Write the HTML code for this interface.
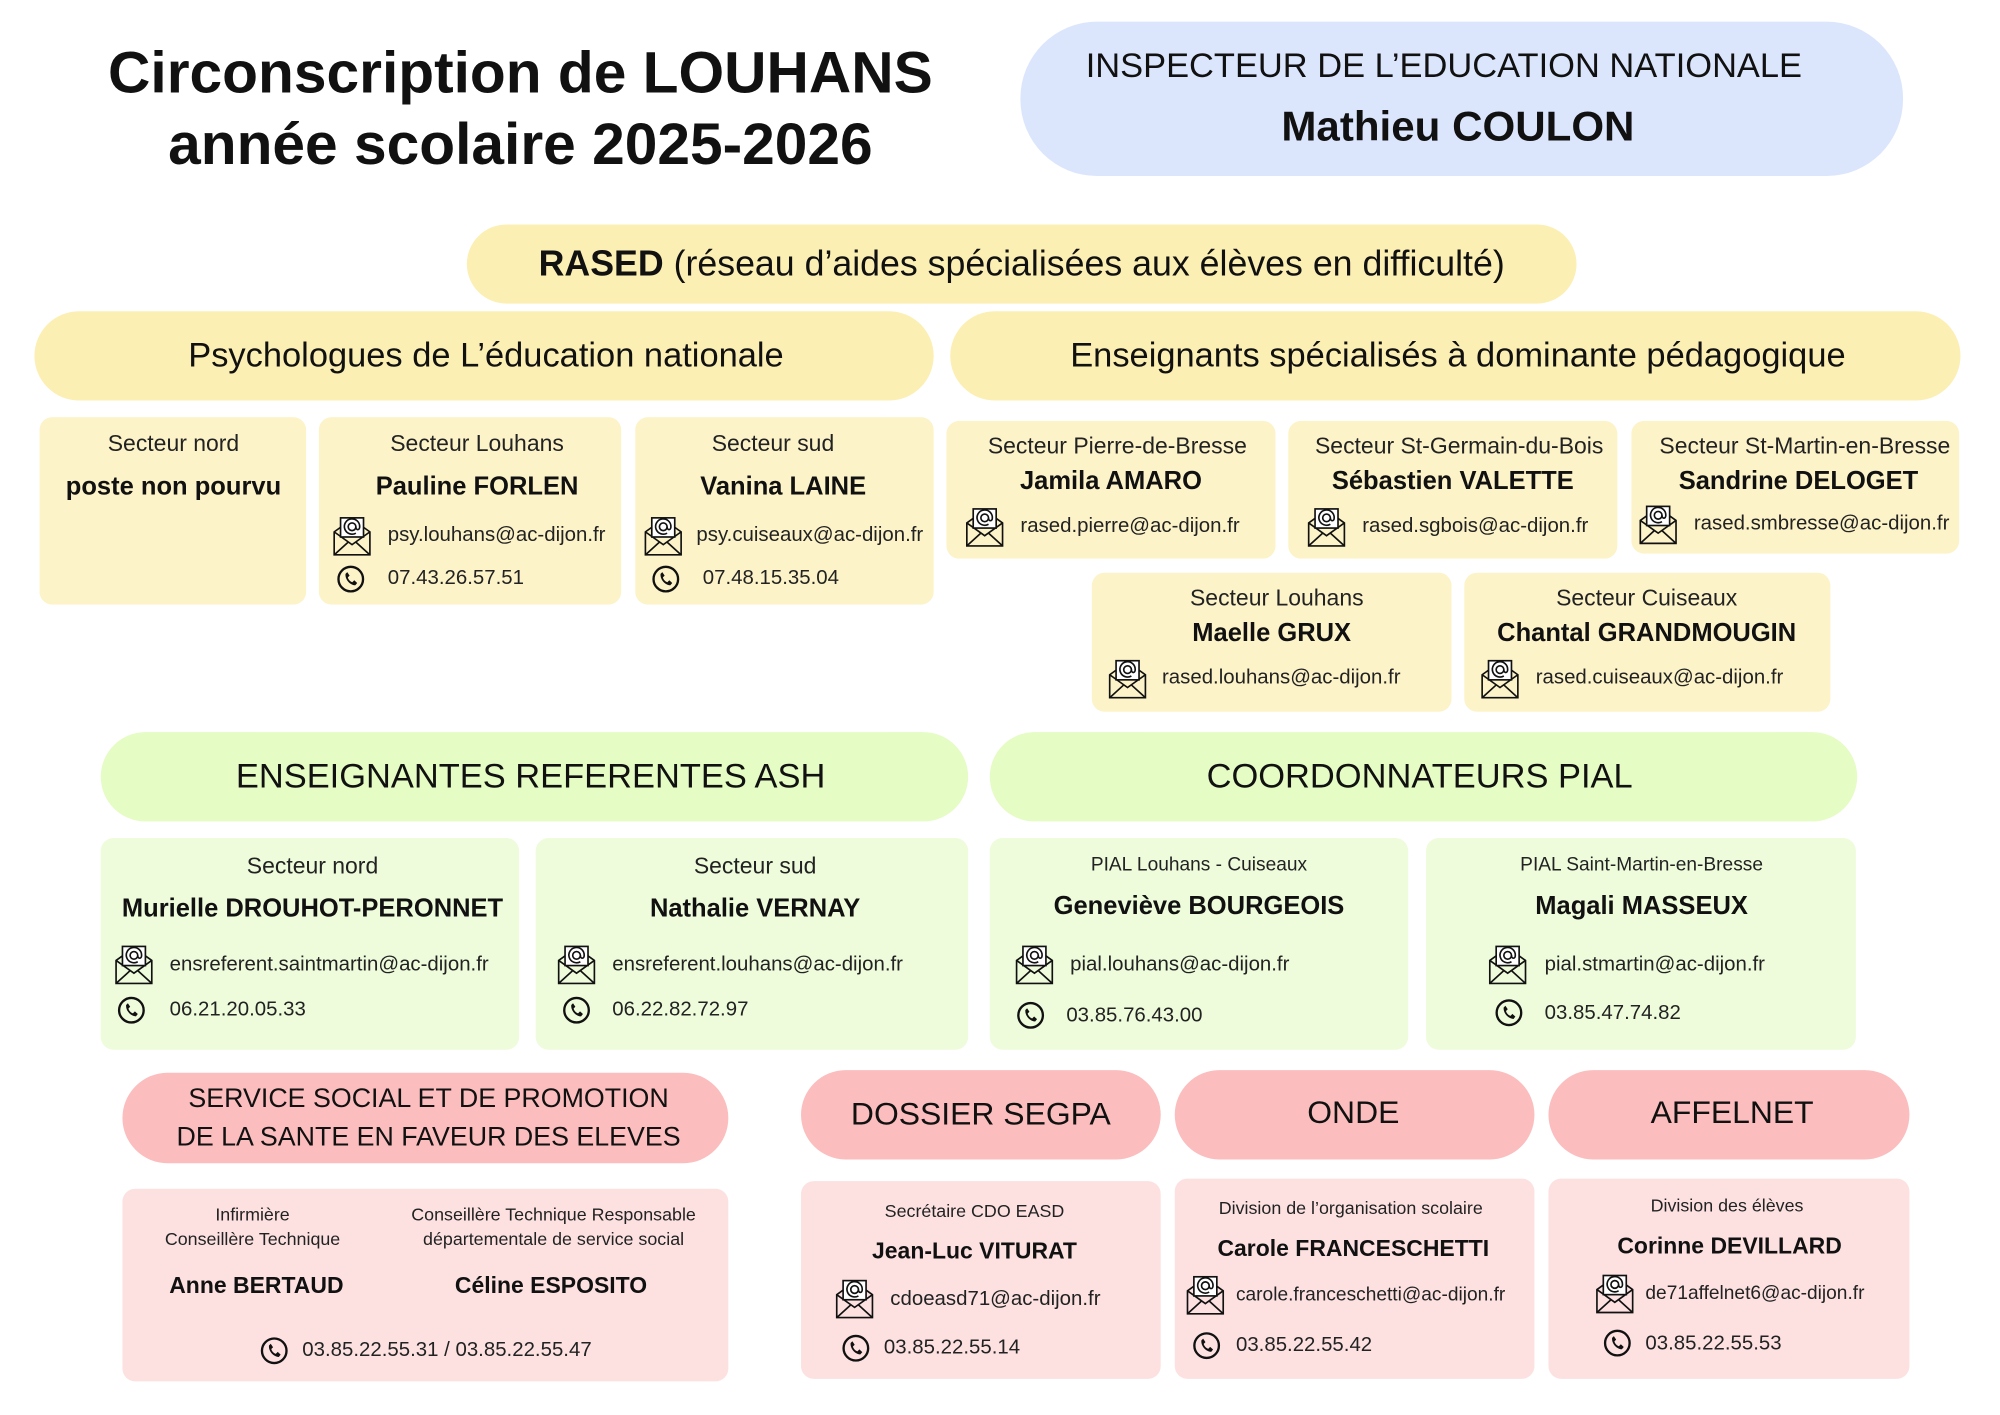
<!DOCTYPE html>
<html><head><meta charset="utf-8"><style>
html,body{margin:0;padding:0;background:#fff;}
body{width:2000px;height:1414px;overflow:hidden;position:relative;font-family:"Liberation Sans",sans-serif;color:#111;}
#c{position:absolute;left:0;top:0;width:1568px;height:1109px;transform:scale(1.27551);transform-origin:0 0;}
.b{position:absolute;}
.y{background:#fdf3c9;border-radius:10px}
.yh{background:#fcefb4;border-radius:36px}
.g{background:#eefcdc;border-radius:10px}
.gh{background:#e5fcc4;border-radius:36px}
.p{background:#fde1e1;border-radius:10px}
.ph{background:#fbbdbd;border-radius:36px}
.t{position:absolute;white-space:nowrap;transform:translate(-50%,-50%);line-height:1.15;text-align:center}
.l{position:absolute;white-space:nowrap;transform:translateY(-50%);line-height:1}
.s{font-size:18px;color:#222}
.n{font-size:20px;font-weight:bold}
.e{font-size:16px;color:#222}
.h{font-size:27px;color:#111}
.sm{font-size:14px;color:#222}
svg.i{position:absolute}
</style></head><body><div id="c">
<svg width="0" height="0" style="position:absolute"><defs>
<symbol id="env" viewBox="0 0 32 32"><g fill="none" stroke="#111" stroke-width="1.3"><path d="M2 13 L2 31 L30 31 L30 13 L16 3 Z"/><path d="M2 31 L13 21 M30 31 L19 21 M2 13 L16 23 L30 13"/><rect x="7" y="2" width="18" height="15" fill="#fff"/><circle cx="16" cy="9" r="3"/><path d="M19 9 c0 3 3 3 3 0 a6 6 0 1 0 -3 5"/></g></symbol>
<symbol id="ph" viewBox="0 0 24 24"><circle cx="12" cy="12" r="10.5" fill="none" stroke="#111" stroke-width="2"/><path d="M9 6 l2 3 -1.5 1.5 c0.5 2 2 3.5 3.8 4.2 L15 13 l2.5 2.3 -1.6 2 C11 17 7 12 7.5 7.5 Z" fill="#111"/></symbol>
</defs></svg>

<div class="t" style="left:408px;top:57px;font-size:46px;font-weight:bold">Circonscription de LOUHANS</div>
<div class="t" style="left:408px;top:113px;font-size:46px;font-weight:bold">année scolaire 2025-2026</div>

<div class="b" style="left:800px;top:17px;width:692px;height:121px;background:#dbe6fd;border-radius:60px"></div>
<div class="t" style="left:1132px;top:52px;font-size:27px">INSPECTEUR DE L’EDUCATION NATIONALE</div>
<div class="t" style="left:1143px;top:99px;font-size:33px;font-weight:bold">Mathieu COULON</div>

<div class="b yh" style="left:366px;top:176px;width:870px;height:62px;border-radius:31px"></div>
<div class="t" style="left:801px;top:207px;font-size:28px"><b>RASED</b> (réseau d’aides spécialisées aux élèves en difficulté)</div>

<div class="b yh" style="left:27px;top:244px;width:705px;height:70px"></div>
<div class="t h" style="left:381px;top:279px">Psychologues de L’éducation nationale</div>
<div class="b yh" style="left:745px;top:244px;width:792px;height:70px"></div>
<div class="t h" style="left:1143px;top:279px">Enseignants spécialisés à dominante pédagogique</div>

<!-- psy boxes -->
<div class="b y" style="left:31px;top:327px;width:209px;height:147px"></div>
<div class="t s" style="left:136px;top:348px">Secteur nord</div>
<div class="t n" style="left:136px;top:382px">poste non pourvu</div>

<div class="b y" style="left:250px;top:327px;width:237px;height:147px"></div>
<div class="t s" style="left:374px;top:348px">Secteur Louhans</div>
<div class="t n" style="left:374px;top:382px">Pauline FORLEN</div>
<svg class="i" style="left:260px;top:404px" width="32" height="32"><use href="#env"/></svg>
<div class="l e" style="left:304px;top:420px">psy.louhans@ac-dijon.fr</div>
<svg class="i" style="left:264px;top:443px" width="22" height="22"><use href="#ph"/></svg>
<div class="l e" style="left:304px;top:454px">07.43.26.57.51</div>

<div class="b y" style="left:498px;top:327px;width:234px;height:147px"></div>
<div class="t s" style="left:606px;top:348px">Secteur sud</div>
<div class="t n" style="left:614px;top:382px">Vanina LAINE</div>
<svg class="i" style="left:504px;top:404px" width="32" height="32"><use href="#env"/></svg>
<div class="l e" style="left:546px;top:420px">psy.cuiseaux@ac-dijon.fr</div>
<svg class="i" style="left:511px;top:443px" width="22" height="22"><use href="#ph"/></svg>
<div class="l e" style="left:551px;top:454px">07.48.15.35.04</div>

<!-- ens boxes -->
<div class="b y" style="left:742px;top:330px;width:258px;height:108px"></div>
<div class="t s" style="left:876px;top:350px">Secteur Pierre-de-Bresse</div>
<div class="t n" style="left:871px;top:378px">Jamila AMARO</div>
<svg class="i" style="left:756px;top:397px" width="32" height="32"><use href="#env"/></svg>
<div class="l e" style="left:800px;top:413px">rased.pierre@ac-dijon.fr</div>

<div class="b y" style="left:1010px;top:330px;width:258px;height:108px"></div>
<div class="t s" style="left:1144px;top:350px">Secteur St-Germain-du-Bois</div>
<div class="t n" style="left:1139px;top:378px">Sébastien VALETTE</div>
<svg class="i" style="left:1024px;top:397px" width="32" height="32"><use href="#env"/></svg>
<div class="l e" style="left:1068px;top:413px">rased.sgbois@ac-dijon.fr</div>

<div class="b y" style="left:1279px;top:330px;width:257px;height:104px"></div>
<div class="t s" style="left:1415px;top:350px">Secteur St-Martin-en-Bresse</div>
<div class="t n" style="left:1410px;top:378px">Sandrine DELOGET</div>
<svg class="i" style="left:1284px;top:395px" width="32" height="32"><use href="#env"/></svg>
<div class="l e" style="left:1328px;top:411px">rased.smbresse@ac-dijon.fr</div>

<div class="b y" style="left:856px;top:449px;width:282px;height:109px"></div>
<div class="t s" style="left:1001px;top:469px">Secteur Louhans</div>
<div class="t n" style="left:997px;top:497px">Maelle GRUX</div>
<svg class="i" style="left:868px;top:516px" width="32" height="32"><use href="#env"/></svg>
<div class="l e" style="left:911px;top:532px">rased.louhans@ac-dijon.fr</div>

<div class="b y" style="left:1148px;top:449px;width:287px;height:109px"></div>
<div class="t s" style="left:1291px;top:469px">Secteur Cuiseaux</div>
<div class="t n" style="left:1291px;top:497px">Chantal GRANDMOUGIN</div>
<svg class="i" style="left:1160px;top:516px" width="32" height="32"><use href="#env"/></svg>
<div class="l e" style="left:1204px;top:532px">rased.cuiseaux@ac-dijon.fr</div>

<!-- green -->
<div class="b gh" style="left:79px;top:574px;width:680px;height:70px"></div>
<div class="t h" style="left:416px;top:609px">ENSEIGNANTES REFERENTES ASH</div>
<div class="b gh" style="left:776px;top:574px;width:680px;height:70px"></div>
<div class="t h" style="left:1113px;top:609px">COORDONNATEURS PIAL</div>

<div class="b g" style="left:79px;top:657px;width:328px;height:166px"></div>
<div class="t s" style="left:245px;top:679px">Secteur nord</div>
<div class="t n" style="left:245px;top:713px">Murielle DROUHOT-PERONNET</div>
<svg class="i" style="left:89px;top:740px" width="32" height="32"><use href="#env"/></svg>
<div class="l e" style="left:133px;top:757px">ensreferent.saintmartin@ac-dijon.fr</div>
<svg class="i" style="left:92px;top:781px" width="22" height="22"><use href="#ph"/></svg>
<div class="l e" style="left:133px;top:792px">06.21.20.05.33</div>

<div class="b g" style="left:420px;top:657px;width:339px;height:166px"></div>
<div class="t s" style="left:592px;top:679px">Secteur sud</div>
<div class="t n" style="left:592px;top:713px">Nathalie VERNAY</div>
<svg class="i" style="left:436px;top:740px" width="32" height="32"><use href="#env"/></svg>
<div class="l e" style="left:480px;top:757px">ensreferent.louhans@ac-dijon.fr</div>
<svg class="i" style="left:441px;top:781px" width="22" height="22"><use href="#ph"/></svg>
<div class="l e" style="left:480px;top:792px">06.22.82.72.97</div>

<div class="b g" style="left:776px;top:657px;width:328px;height:166px"></div>
<div class="t" style="left:940px;top:678px;font-size:15px;color:#222">PIAL Louhans - Cuiseaux</div>
<div class="t n" style="left:940px;top:711px">Geneviève BOURGEOIS</div>
<svg class="i" style="left:795px;top:740px" width="32" height="32"><use href="#env"/></svg>
<div class="l e" style="left:839px;top:757px">pial.louhans@ac-dijon.fr</div>
<svg class="i" style="left:797px;top:785px" width="22" height="22"><use href="#ph"/></svg>
<div class="l e" style="left:836px;top:797px">03.85.76.43.00</div>

<div class="b g" style="left:1118px;top:657px;width:337px;height:166px"></div>
<div class="t" style="left:1287px;top:678px;font-size:15px;color:#222">PIAL Saint-Martin-en-Bresse</div>
<div class="t n" style="left:1287px;top:711px">Magali MASSEUX</div>
<svg class="i" style="left:1166px;top:740px" width="32" height="32"><use href="#env"/></svg>
<div class="l e" style="left:1211px;top:757px">pial.stmartin@ac-dijon.fr</div>
<svg class="i" style="left:1172px;top:783px" width="22" height="22"><use href="#ph"/></svg>
<div class="l e" style="left:1211px;top:795px">03.85.47.74.82</div>

<!-- pink -->
<div class="b ph" style="left:96px;top:841px;width:475px;height:71px"></div>
<div class="t" style="left:336px;top:877px;font-size:21px;line-height:30px">SERVICE SOCIAL ET DE PROMOTION<br>DE LA SANTE EN FAVEUR DES ELEVES</div>
<div class="b ph" style="left:628px;top:839px;width:282px;height:70px"></div>
<div class="t h" style="left:769px;top:874px;font-size:25px">DOSSIER SEGPA</div>
<div class="b ph" style="left:921px;top:839px;width:282px;height:70px"></div>
<div class="t h" style="left:1061px;top:873px;font-size:25px">ONDE</div>
<div class="b ph" style="left:1214px;top:839px;width:283px;height:70px"></div>
<div class="t h" style="left:1358px;top:873px;font-size:25px">AFFELNET</div>

<div class="b p" style="left:96px;top:932px;width:475px;height:151px"></div>
<div class="t sm" style="left:198px;top:962px;line-height:19px">Infirmière<br>Conseillère Technique</div>
<div class="t sm" style="left:434px;top:962px;line-height:19px">Conseillère Technique Responsable<br>départementale de service social</div>
<div class="t" style="left:201px;top:1008px;font-size:18px;font-weight:bold">Anne BERTAUD</div>
<div class="t" style="left:432px;top:1008px;font-size:18px;font-weight:bold">Céline ESPOSITO</div>
<svg class="i" style="left:204px;top:1048px" width="22" height="22"><use href="#ph"/></svg>
<div class="l e" style="left:237px;top:1059px">03.85.22.55.31 / 03.85.22.55.47</div>

<div class="b p" style="left:628px;top:926px;width:282px;height:155px"></div>
<div class="t sm" style="left:764px;top:949px">Secrétaire CDO EASD</div>
<div class="t" style="left:764px;top:981px;font-size:18px;font-weight:bold">Jean-Luc VITURAT</div>
<svg class="i" style="left:654px;top:1002px" width="32" height="32"><use href="#env"/></svg>
<div class="l e" style="left:698px;top:1019px">cdoeasd71@ac-dijon.fr</div>
<svg class="i" style="left:660px;top:1046px" width="22" height="22"><use href="#ph"/></svg>
<div class="l e" style="left:693px;top:1057px">03.85.22.55.14</div>

<div class="b p" style="left:921px;top:924px;width:282px;height:157px"></div>
<div class="t sm" style="left:1059px;top:947px">Division de l’organisation scolaire</div>
<div class="t" style="left:1061px;top:979px;font-size:18px;font-weight:bold">Carole FRANCESCHETTI</div>
<svg class="i" style="left:929px;top:999px" width="32" height="32"><use href="#env"/></svg>
<div class="l e" style="left:969px;top:1015px;font-size:15px">carole.franceschetti@ac-dijon.fr</div>
<svg class="i" style="left:935px;top:1044px" width="22" height="22"><use href="#ph"/></svg>
<div class="l e" style="left:969px;top:1055px">03.85.22.55.42</div>

<div class="b p" style="left:1214px;top:924px;width:283px;height:157px"></div>
<div class="t sm" style="left:1354px;top:945px">Division des élèves</div>
<div class="t" style="left:1356px;top:977px;font-size:18px;font-weight:bold">Corinne DEVILLARD</div>
<svg class="i" style="left:1250px;top:998px" width="32" height="32"><use href="#env"/></svg>
<div class="l e" style="left:1290px;top:1014px;font-size:15px">de71affelnet6@ac-dijon.fr</div>
<svg class="i" style="left:1257px;top:1042px" width="22" height="22"><use href="#ph"/></svg>
<div class="l e" style="left:1290px;top:1054px">03.85.22.55.53</div>
</div></body></html>
